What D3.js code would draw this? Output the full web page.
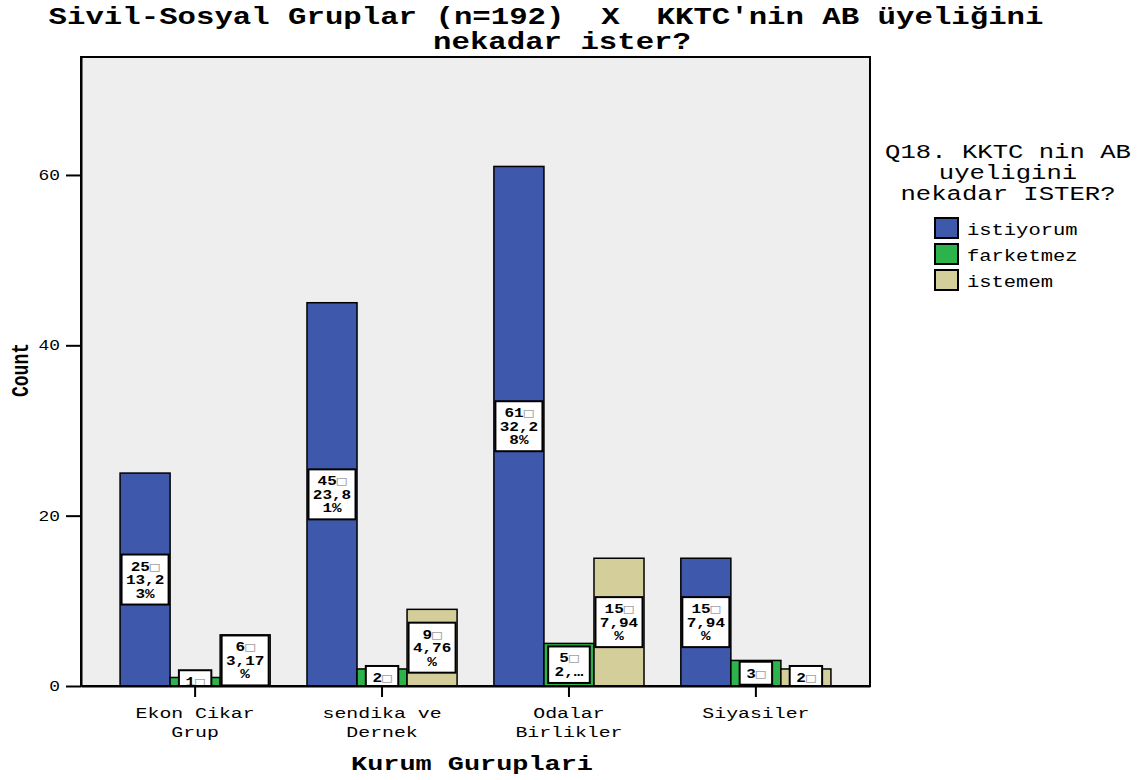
<!DOCTYPE html>
<html>
<head>
<meta charset="utf-8">
<script src="https://cdn.jsdelivr.net/npm/d3@7"></script>
<style>
  body { margin: 0; background: #ffffff; }
  svg { display: block; }
  text { font-family: "Liberation Mono", "Courier New", monospace; white-space: pre; }
</style>
</head>
<body>
<script>
// ---------------- data ----------------
const titleLines = ["Sivil-Sosyal Gruplar (n=192)  X  KKTC'nin AB üyeliğini", "nekadar ister?"];
const categories = ["Ekon Cikar Grup", "sendika ve Dernek", "Odalar Birlikler", "Siyasiler"];
const tickLabels = [["Ekon Cikar", "Grup"], ["sendika ve", "Dernek"], ["Odalar", "Birlikler"], ["Siyasiler"]];
const series = ["istiyorum", "farketmez", "istemem"];
const istiyorum = [25, 45, 61, 15];
const farketmez = [1, 2, 5, 3];
const istemem = [6, 9, 15, 2];
const yTicks = [0, 20, 40, 60];
const legendTitle = ["Q18. KKTC nin AB", "uyeligini", "nekadar ISTER?"];
const xTitle = "Kurum Guruplari";
const yTitle = "Count";
const colors = ["#3e58ac", "#2db34b", "#d4cf9a"];

const values = [istiyorum, farketmez, istemem];
const total = d3.sum(values.flat());

// ---------------- layout ----------------
const W = 1139, H = 780;
const SX = 1.28; // horizontal stretch of the reference text
const plot = { left: 81, right: 870, top: 57, bottom: 686 };

const svg = d3.select("body").append("svg").attr("width", W).attr("height", H);

function stext(parent, x, y, str, opt = {}) {
  const t = parent.append("text")
    .attr("transform", `translate(${x},${y}) scale(${SX},1)` + (opt.rotate ? ` rotate(${opt.rotate})` : ""))
    .attr("text-anchor", opt.anchor || "middle")
    .attr("font-size", opt.size || 16)
    .attr("font-weight", opt.weight || "normal")
    .attr("fill", opt.fill || "#000")
    .attr("xml:space", "preserve")
    .text(str);
  return t;
}

// Title
stext(svg, 546, 24, titleLines[0], { size: 24, weight: "bold" });
stext(svg, 562, 49, titleLines[1], { size: 24, weight: "bold" });

// Scales
const x0 = d3.scaleBand().domain(categories).range([plot.left, plot.right])
  .paddingInner(0.197).paddingOuter(0.209);
const x1 = d3.scaleBand().domain(series).range([0, x0.bandwidth()]);
const y = d3.scaleLinear().domain([0, 73.85]).range([plot.bottom, plot.top]);

// Plot background
svg.append("rect").attr("x", plot.left).attr("y", plot.top)
  .attr("width", plot.right - plot.left).attr("height", plot.bottom - plot.top)
  .attr("fill", "#eeeeee");

svg.append("clipPath").attr("id", "clip").append("rect")
  .attr("x", plot.left).attr("y", plot.top)
  .attr("width", plot.right - plot.left).attr("height", plot.bottom - plot.top);

// Bars
const bars = svg.append("g");
const labels = svg.append("g").attr("clip-path", "url(#clip)");
const bw = x1.bandwidth();
const fmtPct = v => (v / total * 100).toFixed(2).replace(".", ",") + "%";

categories.forEach((c, ci) => {
  series.forEach((s, si) => {
    const v = values[si][ci];
    const bx = x0(c) + x1(s);
    bars.append("rect")
      .attr("x", bx).attr("y", y(v))
      .attr("width", bw).attr("height", y(0) - y(v))
      .attr("fill", colors[si]).attr("stroke", "#000").attr("stroke-width", 1.5);

    // label lines: "count□" then percent wrapped at 4 characters
    const pct = fmtPct(v);
    let lines = [String(v) + "\u25A1"];
    for (let i = 0; i < pct.length; i += 4) lines.push(pct.slice(i, i + 4));
    const barH = y(0) - y(v);
    const maxLines = Math.max(1, Math.floor((barH - 6) / 14));
    if (lines.length > maxLines) {
      lines = lines.slice(0, maxLines);
      if (maxLines > 1) {
        const last = lines[maxLines - 1];
        lines[maxLines - 1] = last.slice(0, Math.max(1, last.length - 2)) + "\u2026";
      }
    }
    const n = lines.length;
    const charW = 12 * 0.6 * SX;
    const maxChars = d3.max(lines, l => l.length);
    const boxW = Math.min(bw - 3, maxChars * charW + 14);
    const boxH = n * 13.5 + 9.5;
    const cx = bx + bw / 2;
    const cy = y(v / 2);
    labels.append("rect")
      .attr("x", cx - boxW / 2).attr("y", cy - boxH / 2)
      .attr("width", boxW).attr("height", boxH)
      .attr("fill", "#ffffff").attr("stroke", "#000").attr("stroke-width", 2);
    lines.forEach((l, i) => {
      const ty = cy + (i - (n - 1) / 2) * 13.5 + 4.5;
      const t = labels.append("text")
        .attr("transform", `translate(${cx},${ty}) scale(${SX},1)`)
        .attr("text-anchor", "middle")
        .attr("font-size", 12.5).attr("font-weight", "bold");
      if (l.includes("\u25A1")) {
        t.append("tspan").text(l.replace("\u25A1", ""));
        t.append("tspan").attr("fill", "#a0a0a0").attr("font-weight", "normal")
          .attr("font-family", "DejaVu Sans Mono").attr("font-size", 12.5).text("\u25A1");
      } else {
        t.text(l);
      }
    });
  });
});

// Frame
svg.append("rect").attr("x", plot.left).attr("y", plot.top)
  .attr("width", plot.right - plot.left).attr("height", plot.bottom - plot.top)
  .attr("fill", "none").attr("stroke", "#000").attr("stroke-width", 2);

// Y axis
const yAxis = svg.append("g").attr("transform", `translate(${plot.left},0)`)
  .call(d3.axisLeft(y).tickValues(yTicks).tickSize(15).tickSizeOuter(0).tickPadding(6).tickFormat(d3.format("d")));
yAxis.select(".domain").attr("stroke", "#000").attr("stroke-width", 2);
yAxis.selectAll(".tick line").attr("stroke", "#000").attr("stroke-width", 2);
yAxis.selectAll(".tick text")
  .attr("font-family", "Liberation Mono, monospace")
  .attr("font-size", 14).attr("fill", "#000")
  .attr("x", -21 / SX)
  .attr("transform", `scale(${SX},1)`);

// X axis
const xAxis = svg.append("g").attr("transform", `translate(0,${plot.bottom})`)
  .call(d3.axisBottom(x0).tickSize(11).tickSizeOuter(0).tickFormat(""));
xAxis.select(".domain").attr("stroke", "#000").attr("stroke-width", 2);
xAxis.selectAll(".tick line").attr("stroke", "#000").attr("stroke-width", 2);

categories.forEach((c, ci) => {
  const cx = x0(c) + x0.bandwidth() / 2;
  tickLabels[ci].forEach((l, li) => {
    stext(svg, cx, 718 + li * 18.5, l, { size: 15.5 });
  });
});

// Axis titles
stext(svg, 472, 770, xTitle, { size: 21, weight: "bold" });
stext(svg, 28, 370, yTitle, { size: 18, weight: "bold", rotate: -90 });

// Legend
legendTitle.forEach((l, i) => stext(svg, 1008, 158 + i * 21, l, { size: 20 }));
series.forEach((s, si) => {
  const ly = 218 + si * 26;
  svg.append("rect").attr("x", 935).attr("y", ly).attr("width", 23).attr("height", 20)
    .attr("fill", colors[si]).attr("stroke", "#000").attr("stroke-width", 2);
  stext(svg, 967, ly + 17, s, { size: 16, anchor: "start" });
});
</script>
</body>
</html>
